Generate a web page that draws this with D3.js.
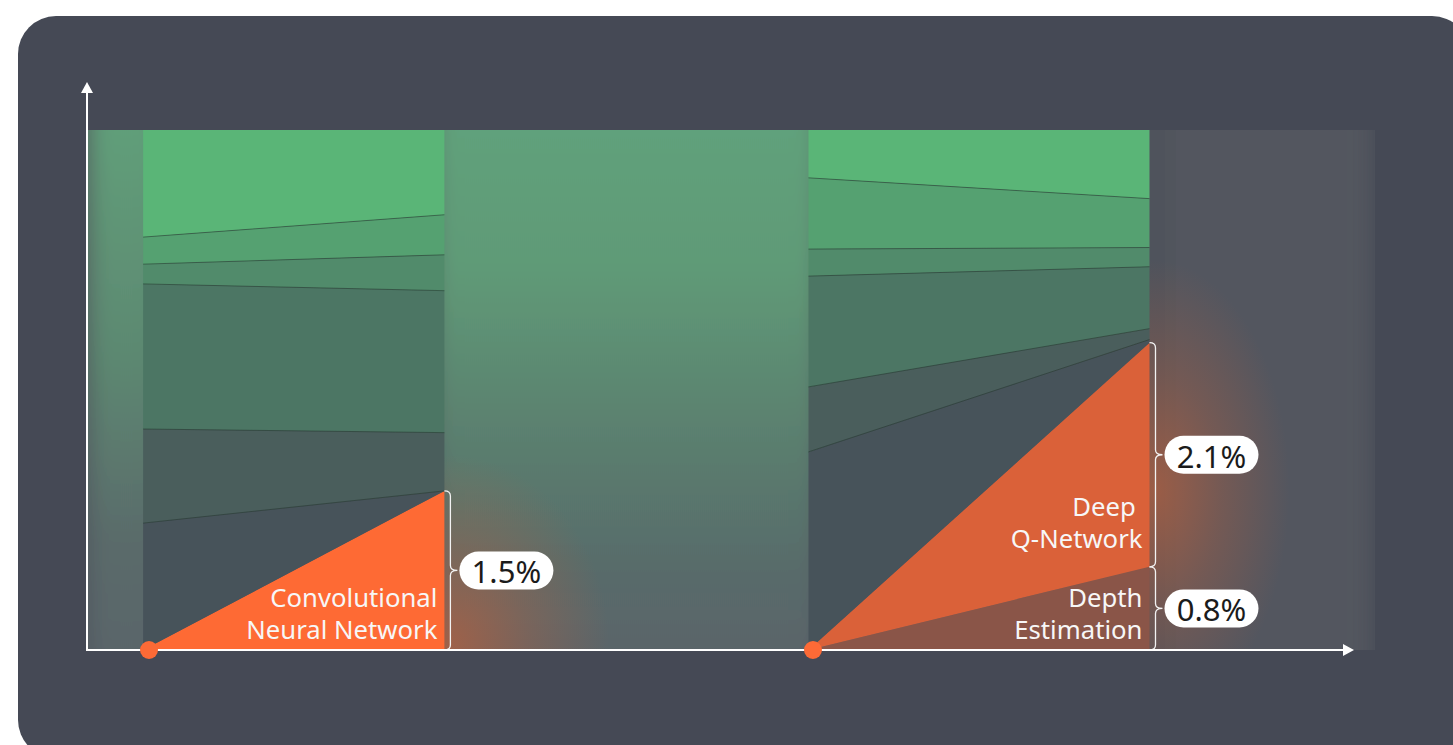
<!DOCTYPE html>
<html><head><meta charset="utf-8">
<script src="https://cdn.jsdelivr.net/npm/d3@7"></script>
<style>html,body{margin:0;padding:0;background:#fff;overflow:hidden}text{font-family:"Noto Sans",sans-serif}</style>
</head><body><svg id="c" width="1453" height="745"></svg>
<script>
// ---------- DATA ----------
const xDomain = [0, 100];                 // horizontal extent of the plot
const yDomain = [0, 100];                 // share of total (visual %)
const panelEdges = [[4.3, 27.8], [56.2, 82.8]];
const dotX = [4.76, 56.55];

const cnnKeys   = ["Convolutional Neural Network", "s6", "s5", "s4", "s3", "s2", "s1"];
const cnnStart  = [0, 24.4, 18.1, 27.9, 3.8, 5.2, 20.6];
const cnnEnd    = [30.6, 0, 11.2, 27.3, 6.9, 7.7, 16.3];

const rlKeys    = ["Depth Estimation", "Deep Q-Network", "s6", "s5", "s4", "s3", "s2", "s1"];
const rlStart   = [0, 0, 38.1, 12.5, 21.3, 5.2, 13.7, 9.2];
const rlEnd     = [16.0, 43.1, 0.6, 2.1, 11.9, 3.7, 9.4, 13.2];

const highlightNames  = ["Convolutional Neural Network", "Deep Q-Network", "Depth Estimation"];
const highlightLines  = [["Convolutional", "Neural Network"], ["Deep ", "Q-Network"], ["Depth", "Estimation"]];
const highlightLabels = ["1.5%", "2.1%", "0.8%"];

// ---------- STYLE ----------
const colors = {
  "s1": "#5ab577", "s2": "#55a171", "s3": "#518b6b", "s4": "#4c7664",
  "s5": "#4a5e5c", "s6": "#47535a",
  "Convolutional Neural Network": "#fe6a34",
  "Deep Q-Network": "#da6139",
  "Depth Estimation": "#8a5548"
};
const labelOffset = {"Convolutional Neural Network": 11, "Deep Q-Network": 19, "Depth Estimation": 11};

const svg = d3.select("#c");
const plot = {left: 88, right: 1370, top: 130, bottom: 650};
const x = d3.scaleLinear().domain(xDomain).range([plot.left, plot.right]);
const y = d3.scaleLinear().domain(yDomain).range([plot.bottom, plot.top]);

// card
svg.append("rect").attr("x", 18).attr("y", 16).attr("width", 1452).attr("height", 742)
  .attr("rx", 38).attr("fill", "#454955");

const defs = svg.append("defs");
defs.append("clipPath").attr("id", "plotClip").append("rect")
  .attr("x", plot.left).attr("y", plot.top).attr("width", plot.right - plot.left + 5).attr("height", plot.bottom - plot.top);
const blur = defs.append("filter").attr("id", "blur").attr("x", "-20%").attr("y", "-20%").attr("width", "140%").attr("height", "140%");
blur.append("feGaussianBlur").attr("stdDeviation", 11);

function vGrad(id, stops) {
  const g = defs.append("linearGradient").attr("id", id).attr("x1", 0).attr("y1", 0).attr("x2", 0).attr("y2", 1);
  stops.forEach(s => g.append("stop").attr("offset", s[0]).attr("stop-color", s[1]));
}
vGrad("midGrad", [[0, "#62a37c"], [0.3, "#5f9a77"], [0.6, "#5a7d6e"], [0.8, "#596b6b"], [1, "#5b6168"]]);
vGrad("leftGrad", [[0, "#62a27b"], [0.45, "#5c8871"], [0.75, "#5a6b6b"], [1, "#5a6369"]]);

function rGrad(id, color, op) {
  const g = defs.append("radialGradient").attr("id", id);
  g.append("stop").attr("offset", 0).attr("stop-color", color).attr("stop-opacity", op);
  g.append("stop").attr("offset", 0.5).attr("stop-color", color).attr("stop-opacity", op * 0.45);
  g.append("stop").attr("offset", 1).attr("stop-color", color).attr("stop-opacity", 0);
}
rGrad("glow", "#b5603f", 0.75);

// background
const bg = svg.append("g").attr("clip-path", "url(#plotClip)");
const bgb = bg.append("g").attr("filter", "url(#blur)");
bgb.append("rect").attr("x", 40).attr("y", 90).attr("width", plot.right - 40 + 4).attr("height", 600).attr("fill", "#53575f");
bgb.append("rect").attr("x", 90).attr("y", 90).attr("width", x(panelEdges[0][0]) - 90 + 20).attr("height", 600).attr("fill", "url(#leftGrad)");
bgb.append("rect").attr("x", x(panelEdges[0][1]) - 10).attr("y", 90)
  .attr("width", x(panelEdges[1][0]) - x(panelEdges[0][1]) + 20).attr("height", 600).attr("fill", "url(#midGrad)");
bgb.append("rect").attr("x", x(panelEdges[1][1])).attr("y", 90).attr("width", 14).attr("height", 600).attr("fill", "#4b4f58");
// glows
bg.append("ellipse").attr("cx", x(panelEdges[0][1]) + 5).attr("cy", plot.bottom - 5).attr("rx", 160).attr("ry", 190).attr("fill", "url(#glow)");
bg.append("ellipse").attr("cx", x(panelEdges[1][1]) + 5).attr("cy", 490).attr("rx", 135).attr("ry", 230).attr("fill", "url(#glow)");

// panels
function drawPanel(keys, start, end, edges) {
  const rows = [{x: edges[0]}, {x: edges[1]}];
  keys.forEach((k, i) => { rows[0][k] = start[i]; rows[1][k] = end[i]; });
  const series = d3.stack().keys(keys)(rows);
  const g = svg.append("g");
  const area = d3.area().x(d => x(d.data.x)).y0(d => y(d[0])).y1(d => y(d[1]));
  g.selectAll("path.a").data(series).join("path").attr("class", "a")
    .attr("d", area).attr("fill", d => colors[d.key]);
  const line = d3.line().x(d => x(d.data.x)).y(d => y(d[1]));
  g.selectAll("path.l").data(series.filter(s => s.key.startsWith("s") && s.key !== "s1"))
    .join("path").attr("class", "l").attr("d", line)
    .attr("fill", "none").attr("stroke", "rgba(35,55,45,0.55)").attr("stroke-width", 1);
  return series;
}
const s1 = drawPanel(cnnKeys, cnnStart, cnnEnd, panelEdges[0]);
const s2 = drawPanel(rlKeys, rlStart, rlEnd, panelEdges[1]);

// highlights: braces, pills, labels
const hl = [];
[[s1, 0], [s2, 1]].forEach(([series, p]) => {
  series.filter(s => highlightNames.includes(s.key)).forEach(s => {
    const last = s[s.length - 1];
    hl.push({key: s.key, x0: x(panelEdges[p][1]), yTop: y(last[1]), yBot: y(last[0])});
  });
});
const ann = svg.append("g");
hl.forEach(h => {
  const i = highlightNames.indexOf(h.key);
  const x0 = h.x0, ym = (h.yTop + h.yBot) / 2, bx = x0 + 6, r = 5;
  const p = `M${x0},${h.yTop} Q${bx},${h.yTop} ${bx},${h.yTop + r} L${bx},${ym - r} Q${bx},${ym} ${x0 + 13},${ym} Q${bx},${ym} ${bx},${ym + r} L${bx},${h.yBot - r} Q${bx},${h.yBot} ${x0},${h.yBot}`;
  ann.append("path").attr("d", p).attr("fill", "none").attr("stroke", "#f2f2f2").attr("stroke-width", 1.3);
  ann.append("rect").attr("x", x0 + 15).attr("y", ym - 19).attr("width", 94).attr("height", 38).attr("rx", 19)
    .attr("fill", "#ffffff");
  ann.append("text").attr("x", x0 + 62).attr("y", ym + 1).attr("text-anchor", "middle").attr("dominant-baseline", "central")
    .attr("font-size", 31).attr("fill", "#1b1b1b").text(highlightLabels[i]);
  const lines = highlightLines[i];
  const base = h.yBot - labelOffset[h.key];
  lines.forEach((t, j) => {
    ann.append("text").attr("x", x0 - 7).attr("y", base - (lines.length - 1 - j) * 32)
      .attr("text-anchor", "end").attr("font-size", 25.7).attr("fill", "#f7f7f7")
      .style("white-space", "pre").text(t);
  });
});

// axes
const ax = svg.append("g");
ax.append("line").attr("x1", plot.left - 1).attr("y1", plot.bottom).attr("x2", plot.left - 1).attr("y2", 90)
  .attr("stroke", "#fff").attr("stroke-width", 2);
ax.append("path").attr("d", `M${plot.left - 1},82 L${plot.left - 7},93 L${plot.left + 5},93 Z`).attr("fill", "#fff");
ax.append("line").attr("x1", plot.left - 2).attr("y1", plot.bottom).attr("x2", 1344).attr("y2", plot.bottom)
  .attr("stroke", "#fff").attr("stroke-width", 2);
ax.append("path").attr("d", `M1354,${plot.bottom} L1343,${plot.bottom - 6} L1343,${plot.bottom + 6} Z`).attr("fill", "#fff");

// dots
svg.append("g").selectAll("circle").data(dotX).join("circle")
  .attr("cx", d => x(d)).attr("cy", plot.bottom).attr("r", 9).attr("fill", "#fd6a36");
</script></body></html>
